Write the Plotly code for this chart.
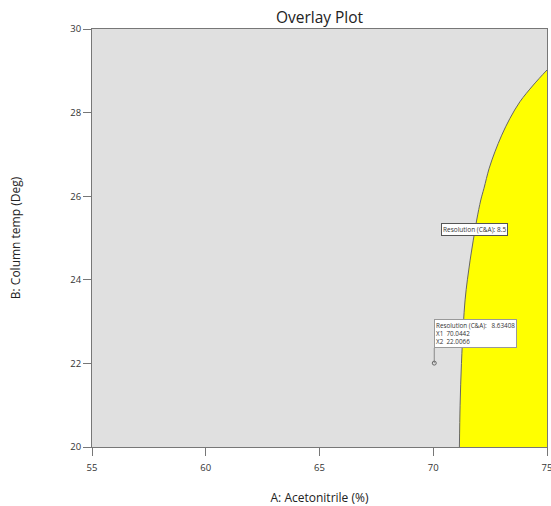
import plotly.graph_objects as go

# Boundary of the Resolution (C&A) = 8.5 contour (design space edge)
boundary_x = [71.15, 71.18, 71.24, 71.32, 71.40, 71.50, 71.62, 71.76, 71.91, 72.09, 72.23,
              72.46, 72.71, 73.01, 73.37, 73.81, 74.40, 75.0]
boundary_y = [20.0, 21.0, 22.0, 22.9, 23.52, 24.0, 24.47, 24.95, 25.43, 25.91, 26.19,
              26.67, 27.06, 27.46, 27.86, 28.26, 28.66, 29.02]
x_max, y_min = 75.0, 20.0

flag_x, flag_y = 70.0442, 22.0066
flag_value = 8.63408
contour_level = 8.5

x_ticks = [55, 60, 65, 70, 75]
y_ticks = [20, 22, 24, 26, 28, 30]

fig = go.Figure()

# right edge of the region (axis limit), then the spline boundary filled to it
fig.add_trace(go.Scatter(x=[x_max, x_max], y=[y_min, boundary_y[-1]], mode="lines",
                         line=dict(color="rgba(0,0,0,0)", width=0), hoverinfo="skip", showlegend=False))
fig.add_trace(go.Scatter(x=boundary_x, y=boundary_y, mode="lines", line_shape="spline",
                         fill="tonextx", fillcolor="#ffff00",
                         line=dict(color="#666666", width=1), showlegend=False))

fig.add_trace(go.Scatter(x=[flag_x, flag_x], y=[flag_y, 22.37], mode="lines",
                         line=dict(color="#888888", width=1), showlegend=False))
fig.add_trace(go.Scatter(x=[flag_x], y=[flag_y], mode="markers",
                         marker=dict(symbol="circle-open", size=4, color="#666666", line=dict(width=1)),
                         showlegend=False))

fig.add_annotation(x=flag_x, y=22.37, xref="x", yref="y", xanchor="left", yanchor="bottom",
                   text=f"Resolution (C&A):&nbsp;&nbsp;&nbsp;{flag_value}<br>X1&nbsp;&nbsp;{flag_x}<br>X2&nbsp;&nbsp;{flag_y}",
                   showarrow=False, align="left", font=dict(size=6.3, color="#333333", family="Open Sans"),
                   bgcolor="white", bordercolor="#999999", borderwidth=1, borderpad=1)

fig.add_annotation(x=70.34, y=25.21, xref="x", yref="y", xanchor="left", yanchor="middle",
                   text=f"Resolution (C&A): {contour_level}", showarrow=False,
                   font=dict(size=6.5, color="#333333", family="Open Sans"),
                   bgcolor="white", bordercolor="#555555", borderwidth=1, borderpad=1)

axis_common = dict(showgrid=False, zeroline=False, showline=True, linecolor="#777777", linewidth=1,
                   mirror=True, ticks="outside", ticklen=8, tickcolor="#777777",
                   ticklabeloverflow="allow", automargin=False,
                   tickfont=dict(size=9.5, color="#333333", family="Open Sans"))

fig.update_layout(
    width=551, height=506,
    margin=dict(l=92, r=4, t=29, b=59, autoexpand=False),
    paper_bgcolor="white", plot_bgcolor="#e0e0e0",
    title=dict(text="Overlay Plot", x=(0.5 * (92 + 547)) / 551, xanchor="center", y=0.966, yanchor="middle",
               font=dict(size=15.5, color="#222222", family="Open Sans")),
    xaxis=dict(range=[55, 75], tickvals=x_ticks, ticklabelstandoff=4,
               title=dict(text="A: Acetonitrile (%)", standoff=20,
                          font=dict(size=12, color="#222222", family="Open Sans")), **axis_common),
    yaxis=dict(range=[20, 30], tickvals=y_ticks,
               title=dict(text="B: Column temp (Deg)", standoff=47,
                          font=dict(size=12, color="#222222", family="Open Sans")), **axis_common),
    showlegend=False,
)

fig.write_html("out.html", config={"displayModeBar": False},
               post_script="document.body.style.margin='0';document.body.style.overflow='hidden';")
